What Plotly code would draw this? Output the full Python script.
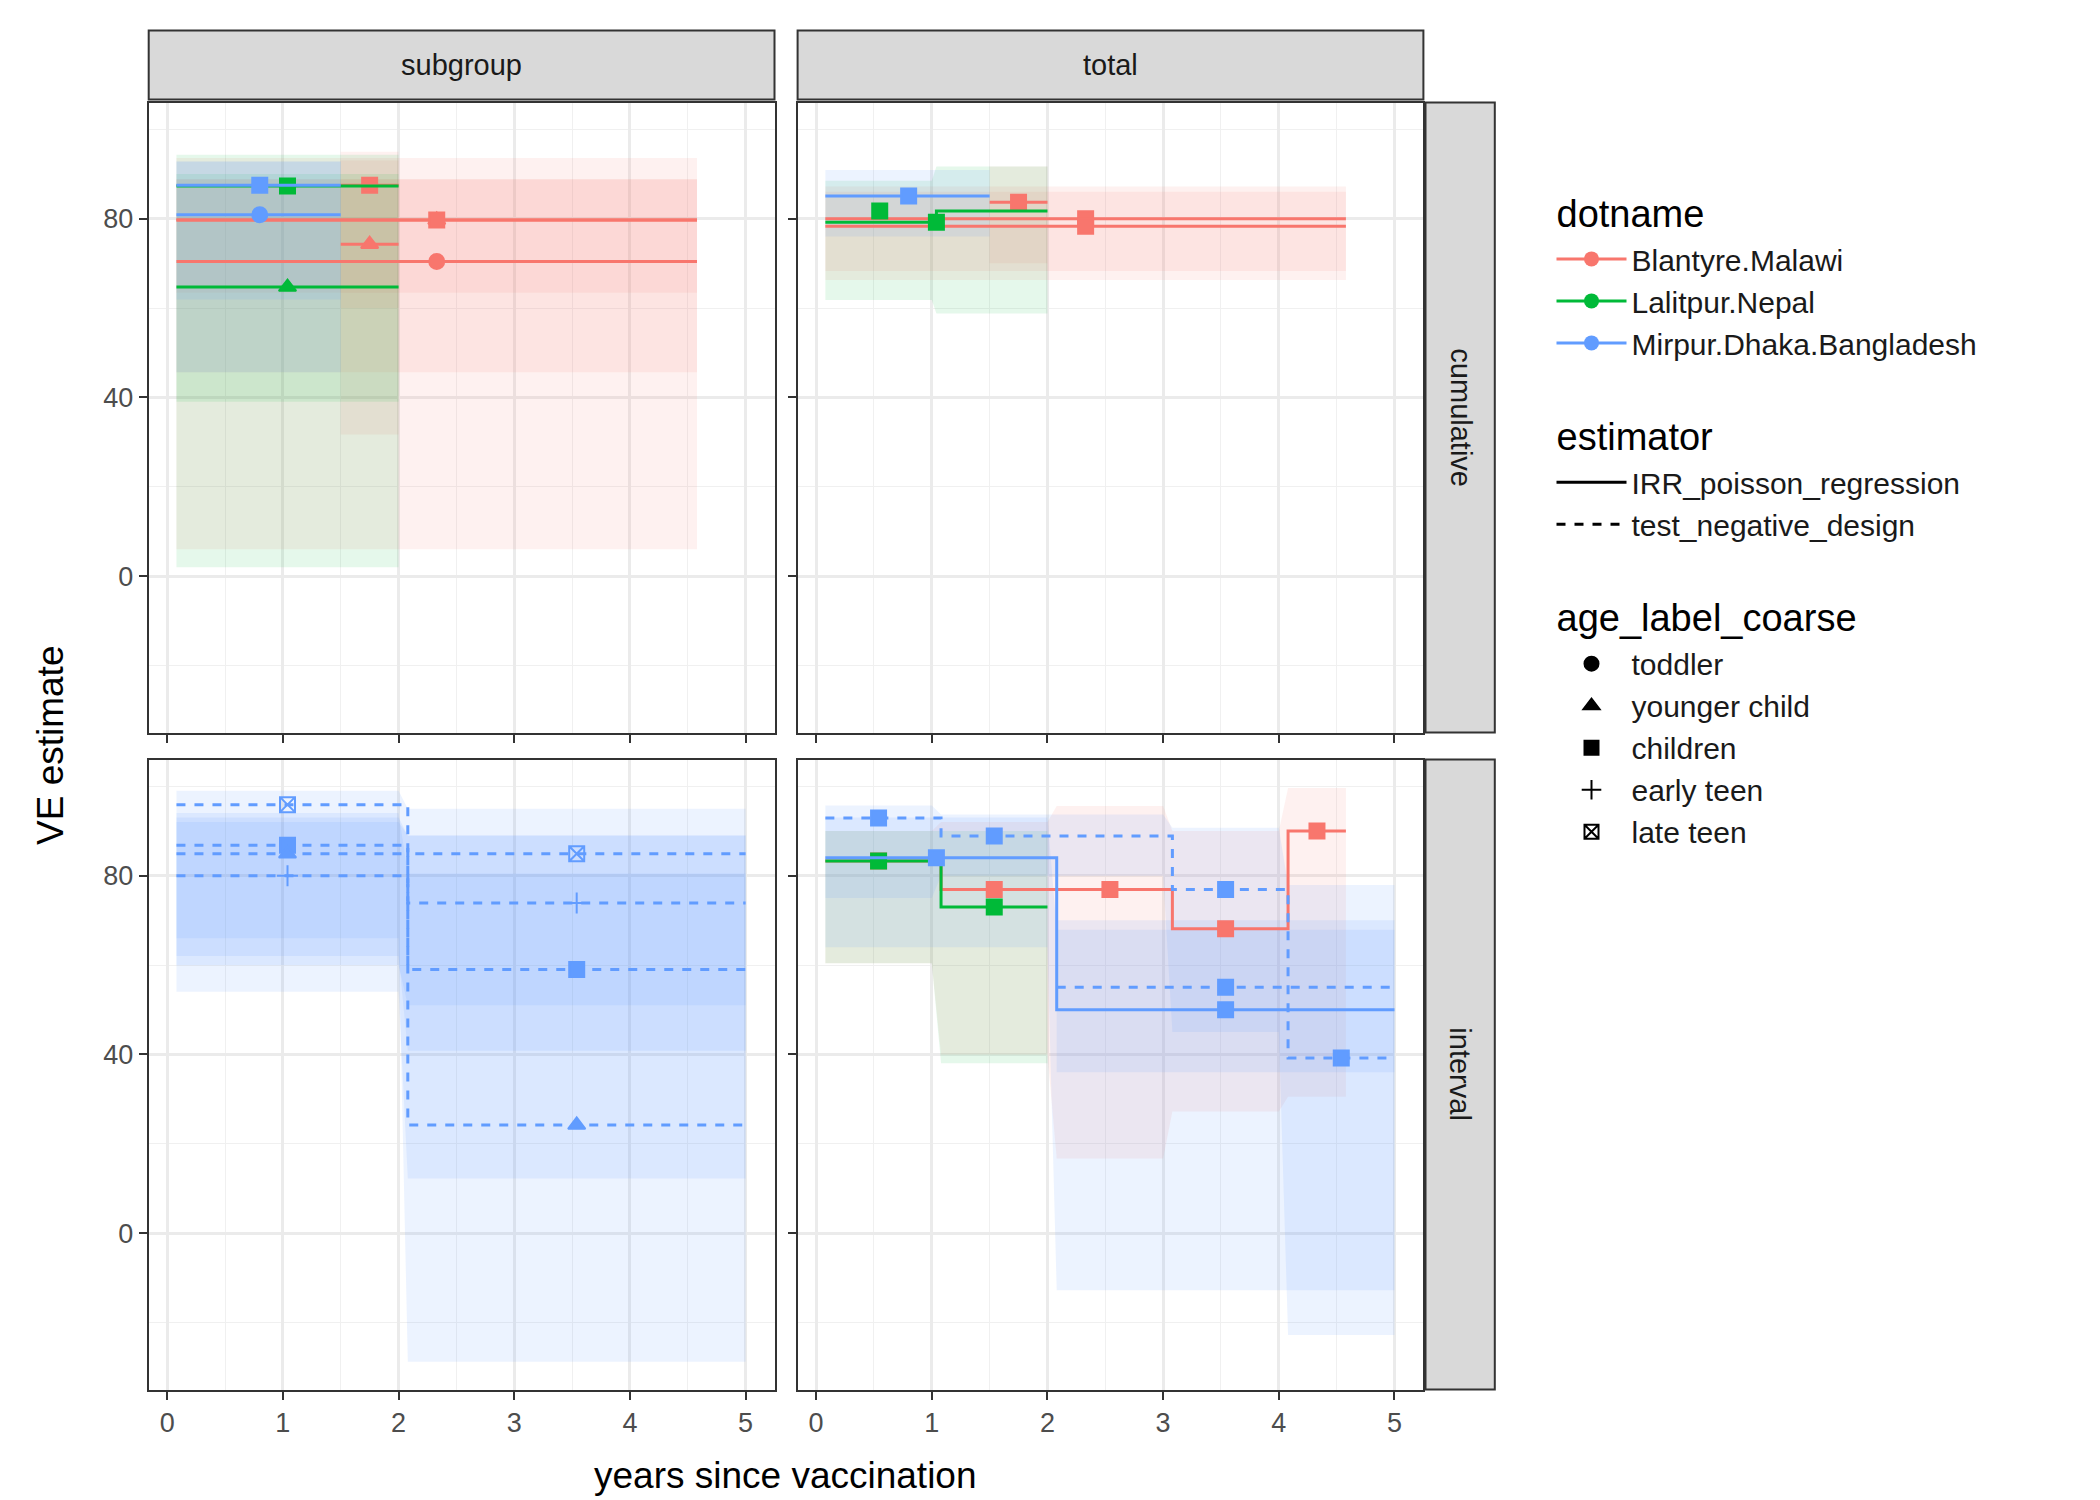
import plotly.graph_objects as go

# colours for each site (ggplot defaults)
site_colors = {"Blantyre.Malawi": "#F8766D", "Lalitpur.Nepal": "#00BA38",
               "Mirpur.Dhaka.Bangladesh": "#619CFF"}
site_fill = {"Blantyre.Malawi": "rgba(248,118,109,0.10)", "Lalitpur.Nepal": "rgba(0,186,56,0.10)",
             "Mirpur.Dhaka.Bangladesh": "rgba(97,156,255,0.12)"}
age_symbols = {"toddler": "circle", "younger child": "triangle-up", "children": "square",
               "early teen": "cross-thin-open", "late teen": "square-x-open"}
est_dash = {"IRR_poisson_regression": "solid", "test_negative_design": "dash"}

R, G, B = "Blantyre.Malawi", "Lalitpur.Nepal", "Mirpur.Dhaka.Bangladesh"
IRR, TND = "IRR_poisson_regression", "test_negative_design"

# panel: (row, col) ; row 1 = cumulative, row 2 = interval ; col 1 = subgroup, col 2 = total
series = [
    # subgroup / cumulative
    dict(p=(1, 1), site=R, est=IRR, age="toddler", xs=[0.08], xe=[4.58], y=[70.4], lo=[6], hi=[93.6], px=[2.33], py=[70.4]),
    dict(p=(1, 1), site=R, est=IRR, age="younger child", xs=[0.08], xe=[4.58], y=[79.7], lo=[45.6], hi=[88.8], px=[2.33], py=[79.7]),
    dict(p=(1, 1), site=R, est=IRR, age="children", xs=[0.08], xe=[4.58], y=[79.7], lo=[63.4], hi=[88.8], px=[2.33], py=[79.7]),
    dict(p=(1, 1), site=R, est=IRR, age="younger child", xs=[1.5], xe=[2.0], y=[74.3], lo=[31.7], hi=[95], px=[1.75], py=[74.3]),
    dict(p=(1, 1), site=R, est=IRR, age="children", xs=[1.5], xe=[2.0], y=[87.5], lo=[60], hi=[93], px=[1.75], py=[87.5]),
    dict(p=(1, 1), site=G, est=IRR, age="children", xs=[0.08], xe=[2.0], y=[87.3], lo=[2], hi=[94.3], px=[1.04], py=[87.3]),
    dict(p=(1, 1), site=G, est=IRR, age="younger child", xs=[0.08], xe=[2.0], y=[64.7], lo=[39], hi=[90], px=[1.04], py=[64.7]),
    dict(p=(1, 1), site=B, est=IRR, age="children", xs=[0.08], xe=[1.5], y=[87.5], lo=[45.6], hi=[92.8], px=[0.8], py=[87.5]),
    dict(p=(1, 1), site=B, est=IRR, age="toddler", xs=[0.08], xe=[1.5], y=[80.9], lo=[61.9], hi=[92.8], px=[0.8], py=[80.9]),
    # total / cumulative
    dict(p=(1, 2), site=R, est=IRR, age="children", xs=[0.08], xe=[4.58], y=[80], lo=[68.3], hi=[86], px=[2.33], py=[80]),
    dict(p=(1, 2), site=R, est=IRR, age="children", xs=[0.08], xe=[4.58], y=[78.3], lo=[66.3], hi=[87.2], px=[2.33], py=[78.3]),
    dict(p=(1, 2), site=R, est=IRR, age="children", xs=[1.5], xe=[2.0], y=[83.7], lo=[70], hi=[91.7], px=[1.75], py=[83.7]),
    dict(p=(1, 2), site=G, est=IRR, age="children", xs=[0.08, 1.04], xe=[1.0, 2.0], y=[79.2, 81.7],
         lo=[61.8, 58.8], hi=[88.5, 91.7], px=[0.55, 1.04], py=[81.7, 79.2]),
    dict(p=(1, 2), site=B, est=IRR, age="children", xs=[0.08], xe=[1.5], y=[85.1], lo=[76], hi=[90.9], px=[0.8], py=[85.1]),
    # subgroup / interval
    dict(p=(2, 1), site=B, est=TND, age="late teen", xs=[0.08, 2.08], xe=[2.0, 5.0], y=[95.9, 84.9], lo=[60, 51], hi=[99, 95], px=[1.04, 3.54], py=[95.9, 84.9]),
    dict(p=(2, 1), site=B, est=TND, age="children", xs=[0.08, 2.08], xe=[2.0, 5.0], y=[86.8, 59], lo=[54, 12.2], hi=[94, 80.5], px=[1.04, 3.54], py=[86.8, 59]),
    dict(p=(2, 1), site=B, est=TND, age="younger child", xs=[0.08, 2.08], xe=[2.0, 5.0], y=[84.9, 24.2], lo=[66, -28.8], hi=[92, 89], px=[1.04, 3.54], py=[84.9, 24.2]),
    dict(p=(2, 1), site=B, est=TND, age="early teen", xs=[0.08, 2.08], xe=[2.0, 5.0], y=[80, 73.9], lo=[62, 40.8], hi=[93, 89], px=[1.04, 3.54], py=[80, 73.9]),
    # total / interval
    dict(p=(2, 2), site=R, est=IRR, age="children", xs=[0.08, 1.08, 2.08, 3.08, 4.08], xe=[1.0, 2.0, 3.0, 4.0, 4.58],
         y=[83.3, 76.9, 76.9, 68.1, 90], lo=[60.4, 40, 16.7, 27.2, 30.5], hi=[90, 92, 95.6, 90, 99.6],
         px=[0.54, 1.54, 2.54, 3.54, 4.33], py=[83.3, 76.9, 76.9, 68.1, 90]),
    dict(p=(2, 2), site=G, est=IRR, age="children", xs=[0.08, 1.08], xe=[1.0, 2.0], y=[83.3, 73], lo=[60.4, 38], hi=[90, 90],
         px=[0.54, 1.54], py=[83.3, 73]),
    dict(p=(2, 2), site=B, est=TND, age="children", xs=[0.08, 1.08, 3.08, 4.08], xe=[1.0, 3.0, 4.0, 5.0],
         y=[92.9, 88.9, 76.9, 39.2], lo=[75, 80, 45, -22.8], hi=[95.7, 93.7, 90.7, 77.9],
         px=[0.54, 1.54, 3.54, 4.54], py=[92.9, 88.9, 76.9, 39.2]),
    dict(p=(2, 2), site=B, est=TND, age="children", xs=[2.08], xe=[5.0], y=[55], lo=[36], hi=[70], px=[3.54], py=[55]),
    dict(p=(2, 2), site=B, est=IRR, age="children", xs=[0.08, 2.08], xe=[2.0, 5.0], y=[84, 50], lo=[64, -12.8], hi=[93, 67.9],
         px=[1.04, 3.54], py=[84, 50]),
]

col_labels = ["subgroup", "total"]
row_labels = ["cumulative", "interval"]

FONT = "Liberation Sans, Arial, sans-serif"
xdom = {1: [0.067, 0.365], 2: [0.376, 0.674]}
ydom = {1: [0.517, 0.937], 2: [0.079, 0.499]}

fig = go.Figure()


def axnames(r, c):
    i = (r - 1) * 2 + c
    s = "" if i == 1 else str(i)
    return "x" + s, "y" + s, "xaxis" + s, "yaxis" + s


# ribbons first, then lines, then points
for s in series:
    xa, ya, _, _ = axnames(*s["p"])
    xx, hh, ll = [], [], []
    for a, b, lo, hi in zip(s["xs"], s["xe"], s["lo"], s["hi"]):
        xx += [a, b]
        hh += [hi, hi]
        ll += [lo, lo]
    fig.add_trace(go.Scatter(x=xx + xx[::-1], y=hh + ll[::-1], fill="toself", mode="none",
                             fillcolor=site_fill[s["site"]], xaxis=xa, yaxis=ya,
                             showlegend=False, hoverinfo="skip"))
for s in series:
    xa, ya, _, _ = axnames(*s["p"])
    xx, yy = [], []
    for a, b, v in zip(s["xs"], s["xe"], s["y"]):
        xx += [a, b]
        yy += [v, v]
    fig.add_trace(go.Scatter(x=xx, y=yy, mode="lines", line_shape="hv", xaxis=xa, yaxis=ya,
                             line=dict(color=site_colors[s["site"]], width=3, dash=est_dash[s["est"]]),
                             showlegend=False))
    fig.add_trace(go.Scatter(x=s["px"], y=s["py"], mode="markers", xaxis=xa, yaxis=ya,
                             marker=dict(symbol=age_symbols[s["age"]], size=15, color=site_colors[s["site"]],
                                         line=dict(width=2, color=site_colors[s["site"]])),
                             showlegend=False))

# legend entries
for name, c in site_colors.items():
    fig.add_trace(go.Scatter(x=[None], y=[None], mode="lines+markers", name=name,
                             line=dict(color=c, width=3), marker=dict(size=15, color=c),
                             legendgroup="dot", legendgrouptitle=dict(text="dotname")))
for name, d in est_dash.items():
    fig.add_trace(go.Scatter(x=[None], y=[None], mode="lines", name=name,
                             line=dict(color="black", width=3, dash=d),
                             legendgroup="est", legendgrouptitle=dict(text="estimator")))
for name, sym in age_symbols.items():
    fig.add_trace(go.Scatter(x=[None], y=[None], mode="markers", name=name,
                             marker=dict(symbol=sym, size=14, color="black", line=dict(width=2, color="black")),
                             legendgroup="age", legendgrouptitle=dict(text="age_label_coarse")))

for r in (1, 2):
    for c in (1, 2):
        xa, ya, xk, yk = axnames(r, c)
        fig.layout[xk] = dict(domain=xdom[c], anchor=ya, range=[-0.16, 5.25], tickvals=[0, 1, 2, 3, 4, 5],
                              showticklabels=(r == 2), ticks="outside", ticklen=8, tickcolor="#333", tickwidth=2,
                              showline=True, mirror=True, linecolor="#333", linewidth=2,
                              gridcolor="#EBEBEB", gridwidth=2.5, zeroline=False,
                              minor=dict(tickvals=[0.5, 1.5, 2.5, 3.5, 4.5], showgrid=True, gridcolor="#F0F0F0", gridwidth=1.2),
                              tickfont=dict(size=27, color="#4D4D4D"))
        fig.layout[yk] = dict(domain=ydom[r], anchor=xa, range=[-35, 106], tickvals=[0, 40, 80],
                              showticklabels=(c == 1), ticks="outside", ticklen=8, tickcolor="#333", tickwidth=2,
                              showline=True, mirror=True, linecolor="#333", linewidth=2,
                              gridcolor="#EBEBEB", gridwidth=2.5, zeroline=False,
                              minor=dict(tickvals=[-20, 20, 60, 100], showgrid=True, gridcolor="#F0F0F0", gridwidth=1.2),
                              tickfont=dict(size=27, color="#4D4D4D"))

shapes, annos = [], []
for c, lab in zip((1, 2), col_labels):
    shapes.append(dict(type="rect", xref="paper", yref="paper", x0=xdom[c][0], x1=xdom[c][1],
                       y0=0.939, y1=0.985, fillcolor="#D9D9D9", line=dict(color="#333", width=2)))
    annos.append(dict(text=lab, xref="paper", yref="paper", x=sum(xdom[c]) / 2, y=0.962,
                      xanchor="center", yanchor="middle",
                      showarrow=False, font=dict(size=29, color="#1A1A1A")))
for r, lab in zip((1, 2), row_labels):
    shapes.append(dict(type="rect", xref="paper", yref="paper", x0=0.675, x1=0.708,
                       y0=ydom[r][0], y1=ydom[r][1], fillcolor="#D9D9D9", line=dict(color="#333", width=2)))
    annos.append(dict(text=lab, xref="paper", yref="paper", x=0.6915, y=sum(ydom[r]) / 2, textangle=90,
                      xanchor="center", yanchor="middle",
                      showarrow=False, font=dict(size=29, color="#1A1A1A")))
annos.append(dict(text="VE estimate", xref="paper", yref="paper", x=0.02, y=0.508, textangle=-90,
                  xanchor="center", yanchor="middle",
                  showarrow=False, font=dict(size=37, color="black")))
annos.append(dict(text="years since vaccination", xref="paper", yref="paper", x=0.37, y=0.022,
                  xanchor="center", yanchor="middle",
                  showarrow=False, font=dict(size=37, color="black")))

fig.update_layout(width=2100, height=1500, margin=dict(l=0, r=0, t=0, b=0),
                  paper_bgcolor="white", plot_bgcolor="white", font=dict(family=FONT),
                  shapes=shapes, annotations=annos,
                  legend=dict(x=0.735, y=0.885, xanchor="left", yanchor="top", tracegroupgap=45,
                              font=dict(size=30, color="#1A1A1A"), grouptitlefont=dict(size=38, color="black"),
                              itemwidth=70))
fig.write_html("out.html")
